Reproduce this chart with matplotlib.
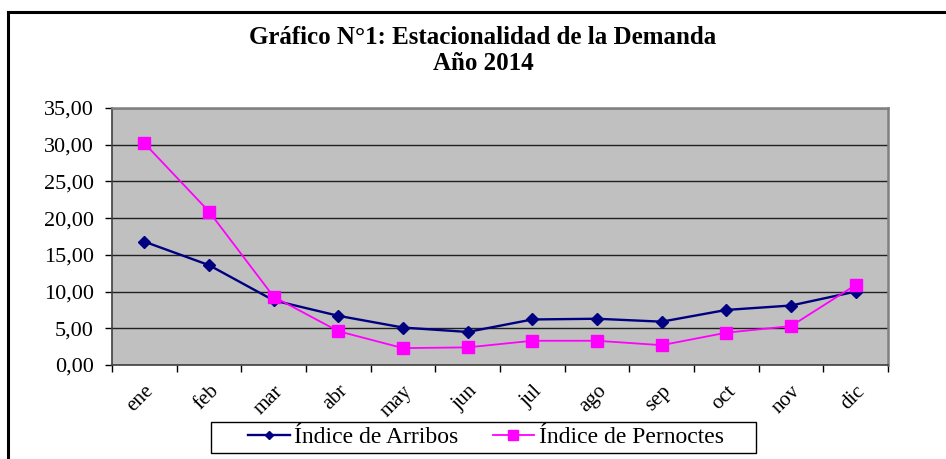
import numpy as np
import matplotlib
matplotlib.use('Agg')
import matplotlib.pyplot as plt
from matplotlib.patches import Rectangle
from matplotlib.ticker import FuncFormatter

meses = ['ene', 'feb', 'mar', 'abr', 'may', 'jun', 'jul', 'ago', 'sep', 'oct', 'nov', 'dic']
arribos = [16.8, 13.6, 8.8, 6.7, 5.1, 4.5, 6.2, 6.3, 5.9, 7.5, 8.1, 10.0]
pernoctes = [30.2, 20.9, 9.3, 4.6, 2.3, 2.4, 3.3, 3.3, 2.7, 4.4, 5.3, 10.9]
y_ticks = [0, 5, 10, 15, 20, 25, 30, 35]

plt.rcParams['font.family'] = ['Liberation Serif', 'DejaVu Serif']

W, H = 946, 459
fig = plt.figure(figsize=(W / 100, H / 100), dpi=100)

# outer frame: top and left only
fig.add_artist(plt.Line2D([8 / W, 8 / W], [0, 1 - 12 / H], color='black', lw=2.2,
                          transform=fig.transFigure))
fig.add_artist(plt.Line2D([8 / W, 1], [1 - 12 / H, 1 - 12 / H], color='black', lw=2.2,
                          transform=fig.transFigure))

ax = fig.add_axes([112 / W, (H - 365) / H, 776 / W, 257 / H])
ax.set_facecolor('#C0C0C0')

x = np.arange(len(meses))
ax.plot(x, arribos, color='#000080', lw=1.7, marker='D', markersize=6,
        label='Índice de Arribos', zorder=3)
ax.plot(x, pernoctes, color='#FF00FF', lw=1.3, marker='s', markersize=9,
        label='Índice de Pernoctes', zorder=4)

ax.set_xlim(-0.5, len(meses) - 0.5)
ax.set_ylim(0, 35)
ax.set_yticks(y_ticks)
ax.yaxis.set_major_formatter(FuncFormatter(lambda v, p: f'{v:.2f}'.replace('.', ',')))
ax.grid(axis='y', color='#202020', lw=1.0)
ax.set_axisbelow(True)

ax.set_xticks(np.arange(len(meses) + 1) - 0.5)
ax.set_xticklabels([])
ax.set_xticks(x, minor=True)
ax.set_xticklabels(meses, minor=True, rotation=45, ha='right', rotation_mode='anchor',
                   fontsize=15)
ax.tick_params(axis='x', which='minor', length=0, pad=12)
ax.tick_params(axis='x', which='major', length=5, width=1, direction='out')
ax.tick_params(axis='y', length=5, width=1, direction='out', labelsize=16, pad=8)

for s in ['top', 'right']:
    ax.spines[s].set_color('#808080')
    ax.spines[s].set_linewidth(1.8)
for s in ['left', 'bottom']:
    ax.spines[s].set_color('#404040')
    ax.spines[s].set_linewidth(1.2)

fig.text(483 / W, 1 - 38 / H, 'Gráfico N°1: Estacionalidad de la Demanda',
         ha='center', va='center', fontsize=18, fontweight='bold')
fig.text(483 / W, 1 - 63 / H, 'Año 2014', ha='center', va='center',
         fontsize=18, fontweight='bold')

# legend box drawn separately (wide horizontal padding like the original)
fig.add_artist(Rectangle((211 / W, 1 - 453 / H), 545 / W, 31 / H, transform=fig.transFigure,
                         facecolor='white', edgecolor='black', lw=1.0, zorder=5))
leg = fig.legend(loc='center', bbox_to_anchor=(486 / W, 1 - 437.5 / H), ncol=2,
                 fontsize=17, frameon=False, borderpad=0.15, handlelength=1.75,
                 columnspacing=1.45, handletextpad=0.2, markerscale=0.75,
                 borderaxespad=0)
leg.set_zorder(6)

fig.savefig('out.png', dpi=100)
